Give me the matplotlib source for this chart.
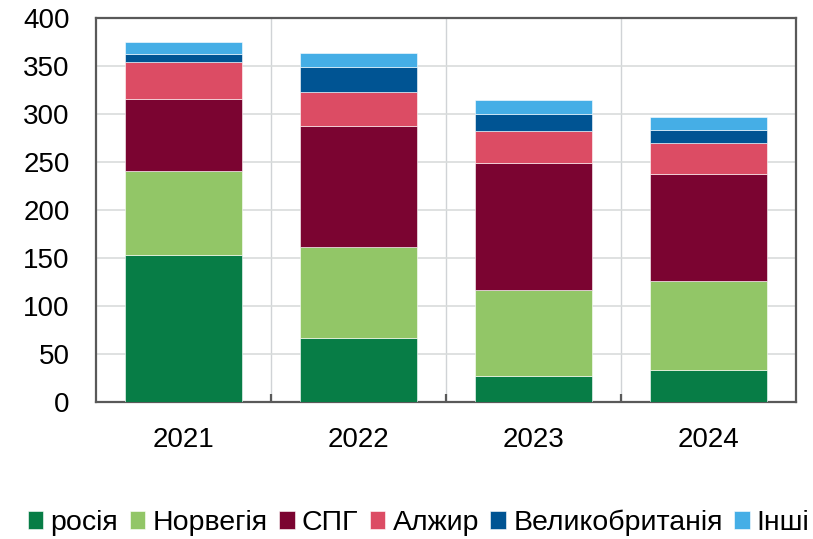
import matplotlib.pyplot as plt
import numpy as np

plt.rcParams['font.family'] = ['Liberation Sans', 'DejaVu Sans']

years = ['2021', '2022', '2023', '2024']
russia = [153, 67, 27, 33]
norway = [88, 94, 90, 93]
lng = [75, 127, 132, 112]
algeria = [38, 35, 33, 32]
uk = [8, 26, 18, 13]
other = [13, 15, 15, 14]

series = [
    ('росія', russia, '#077d46'),
    ('Норвегія', norway, '#92c667'),
    ('СПГ', lng, '#7b0431'),
    ('Алжир', algeria, '#dc4c64'),
    ('Великобританія', uk, '#005493'),
    ('Інші', other, '#45aee6'),
]

fig = plt.figure(figsize=(8.13, 5.39), dpi=100)
ax = fig.add_axes([96 / 813, 1 - 402 / 539, 700 / 813, 384 / 539])

x = np.arange(len(years))
bottom = np.zeros(len(years))
for name, vals, col in series:
    ax.bar(x, vals, width=0.665, bottom=bottom, color=col, label=name,
           edgecolor='white', linewidth=0.4, zorder=3)
    bottom += np.array(vals)

ax.set_xlim(-0.5, 3.5)
ax.set_ylim(0, 400)
ax.set_yticks(range(0, 401, 50))
ax.set_xticks(x)
ax.set_xticklabels(years)
ax.set_xticks([0.5, 1.5, 2.5], minor=True)

ax.grid(axis='y', color='#d9dcdc', linewidth=1.2, zorder=0)
ax.grid(axis='x', which='minor', color='#d0d3d6', linewidth=1.0, zorder=0)

for s in ax.spines.values():
    s.set_color('#595959')
    s.set_linewidth(1.6)

ax.tick_params(axis='x', which='major', length=0, pad=18, labelsize=20)
ax.tick_params(axis='x', which='minor', direction='in', length=6, width=1.6,
               color='#595959')
ax.tick_params(axis='y', length=0, pad=19, labelsize=20)

fig.legend(loc='center', bbox_to_anchor=(0.515, 0.03), ncol=6,
           frameon=False, fontsize=20.5, handlelength=0.55, handleheight=0.55,
           handletextpad=0.25, columnspacing=0.4, borderaxespad=0.0,
           borderpad=0.0)

fig.savefig('out.png', dpi=100)
